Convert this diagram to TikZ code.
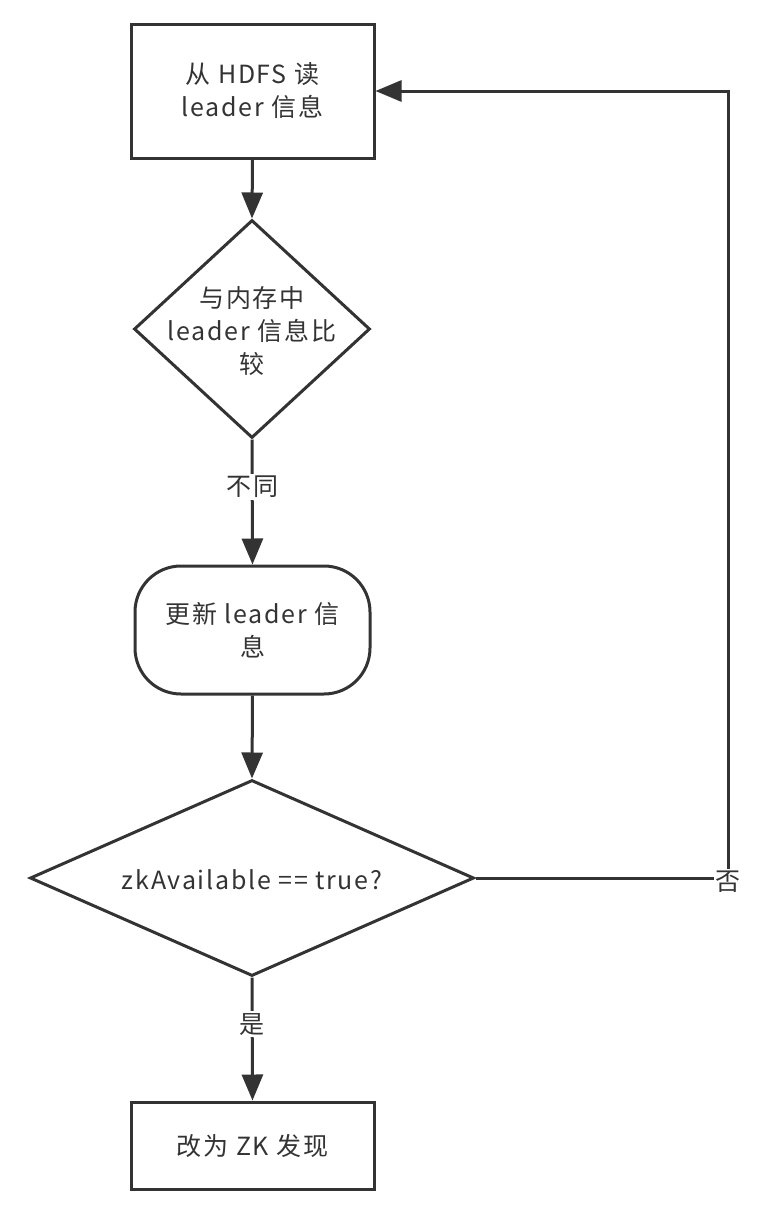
\documentclass[tikz,border=0pt]{standalone}
\usepackage{fontspec}
\setmainfont{Noto Sans CJK SC}
\newfontfamily\lblfont[LetterSpace=7]{Noto Sans CJK SC}
\usetikzlibrary{shapes.geometric,arrows.meta}
\definecolor{ink}{HTML}{333333}
\begin{document}
\begin{tikzpicture}[x=1pt,y=-1pt,
  every node/.style={text=ink,font=\lblfont\fontsize{25}{33}\selectfont},
  boxnode/.style={draw=ink,line width=3pt,rectangle,minimum width=243pt,inner sep=0pt,align=center},
  dianode/.style={draw=ink,line width=3pt,diamond,inner sep=0pt},
  txt/.style={align=center,inner sep=0pt},
  conn/.style={draw=ink,line width=3pt,-{Triangle[length=26pt,width=21pt]}},
  edgelabel/.style={fill=white,inner sep=2pt}
]
\useasboundingbox (0,0) rectangle (766,1218);
\node[boxnode,minimum height=134pt] (read) at (252.5,91) {从 HDFS 读\\leader 信息};
\node[dianode,minimum width=236pt,minimum height=218pt] (cmp) at (252,329) {};
\node[txt] (cmptxt) at (252,331) {与内存中\\leader 信息比\\较};
\node[draw=ink,line width=3pt,rectangle,rounded corners=46pt,minimum width=235pt,minimum height=128pt,inner sep=0pt,align=center] (upd) at (252.5,630) {更新 leader 信\\息};
\node[dianode,minimum width=444pt,minimum height=196pt] (zk) at (252,878) {};
\node[txt] (zktxt) at (252,880) {zkAvailable == true?};
\node[boxnode,minimum height=87pt] (zkd) at (252.5,1145.5) {改为 ZK 发现};
\coordinate (rc) at (728,878);
\coordinate (rt) at (728,91);
\draw[conn] (read.south) -- (cmp.north);
\draw[conn] (cmp.south) -- node[edgelabel,pos=0.38] (l1) {不同} (upd.north);
\draw[conn] (upd.south) -- (zk.north);
\draw[conn] (zk.south) -- node[edgelabel,pos=0.38] (l2) {是} (zkd.north);
\draw[conn] (zk.east) -- (rc) -- (rt) -- (read.east);
\node[edgelabel] (l3) at (728,882) {否};
\end{tikzpicture}
\end{document}
